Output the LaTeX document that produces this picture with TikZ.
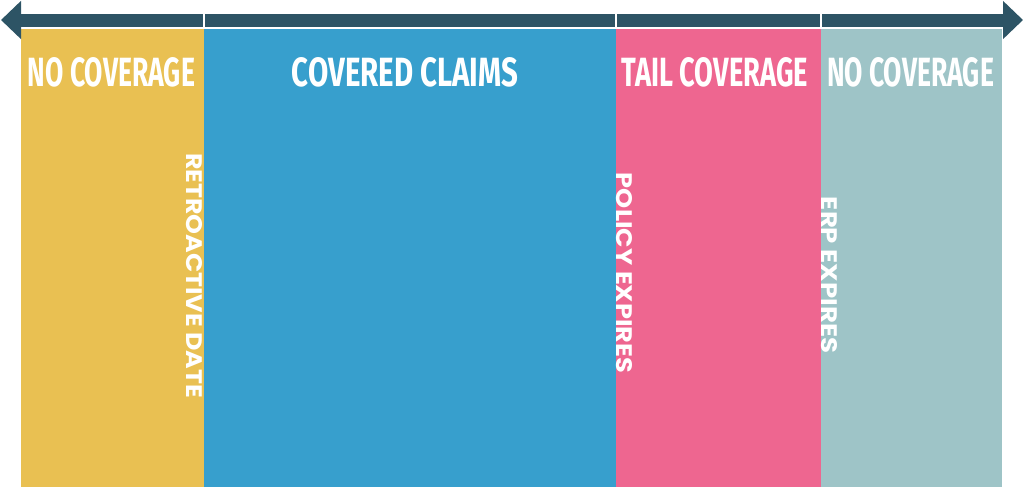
\documentclass[tikz,border=0pt]{standalone}
\usepackage{fontspec}
\usetikzlibrary{arrows.meta}
\setmainfont{Fira Sans}
\newfontfamily\headfont{Fira Sans}
\newfontfamily\sidefont{Poppins}
\definecolor{cyellow}{HTML}{E9C052}
\definecolor{cblue}{HTML}{379FCD}
\definecolor{cpink}{HTML}{EE6690}
\definecolor{cteal}{HTML}{9EC4C7}
\definecolor{cdark}{HTML}{2D5465}
\tikzset{
  col/.style={draw=none,inner sep=0pt,outer sep=0pt,anchor=north west,minimum height=458pt},
  toplab/.style={inner sep=0pt,text=white,font=\headfont\bfseries},
  sidelab/.style={inner sep=0pt,text=white,font=\sidefont\bfseries,rotate=-90},
  timeline/.style={draw=cdark,line width=13pt,
    {Triangle[length=20pt,width=37pt]}-{Triangle[length=20pt,width=37pt]}},
  gap/.style={draw=white,line width=2pt}
}
\begin{document}
\begin{tikzpicture}[x=1pt,y=-1pt]
\useasboundingbox (0,0) rectangle (1024,488);
% columns
\node[col,fill=cyellow,minimum width=183pt] (c1) at (21,29) {};
\node[col,fill=cblue,minimum width=412pt] (c2) at (204,29) {};
\node[col,fill=cpink,minimum width=205pt] (c3) at (616,29) {};
\node[col,fill=cteal,minimum width=181pt] (c4) at (821,29) {};
% timeline
\coordinate (L) at (1,20);
\coordinate (R) at (1023,20);
\draw[timeline] (L) -- (R);
\draw[gap] ([xshift=-0.5pt,yshift=1pt]c2.north west) -- ([xshift=-0.5pt,yshift=17pt]c2.north west);
\draw[gap] ([xshift=-0.5pt,yshift=1pt]c3.north west) -- ([xshift=-0.5pt,yshift=17pt]c3.north west);
\draw[gap] ([xshift=-0.5pt,yshift=1pt]c4.north west) -- ([xshift=-0.5pt,yshift=17pt]c4.north west);
% top labels
\node[toplab] (t1) at (111.5,72.5) {\resizebox{167pt}{29pt}{NO COVERAGE}};
\node[toplab] (t2) at (405,72.5) {\resizebox{226pt}{29pt}{COVERED CLAIMS}};
\node[toplab] (t3) at (715,72.5) {\resizebox{186pt}{29pt}{TAIL COVERAGE}};
\node[toplab] (t4) at (910.5,72.5) {\resizebox{167pt}{29pt}{NO COVERAGE}};
% side labels
\node[sidelab] (s1) at (194.5,275.5) {\resizebox{245pt}{16pt}{RETROACTIVE DATE}};
\node[sidelab] (s2) at (624.5,273) {\resizebox{200pt}{16pt}{POLICY EXPIRES}};
\node[sidelab] (s3) at (829,275) {\resizebox{156pt}{16pt}{ERP EXPIRES}};
\end{tikzpicture}
\end{document}
